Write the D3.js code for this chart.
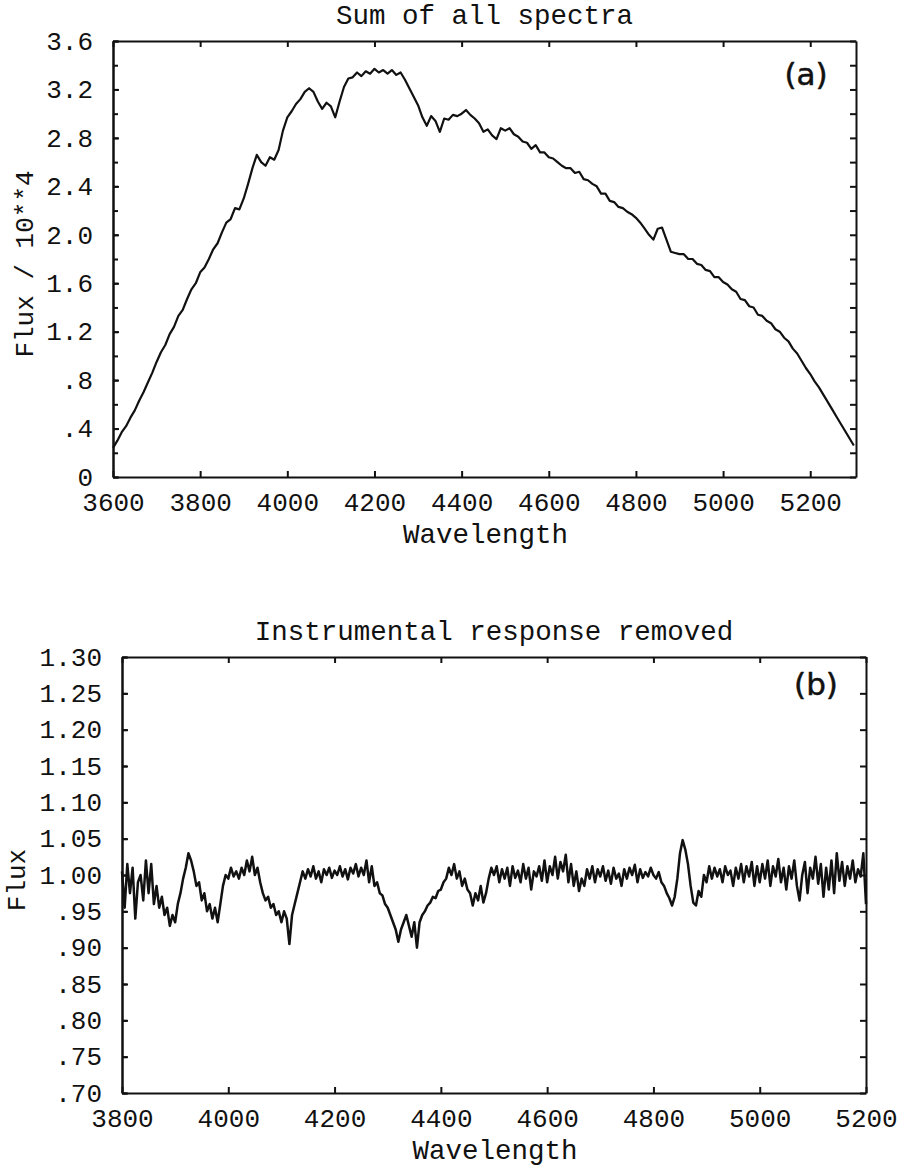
<!DOCTYPE html>
<html>
<head>
<meta charset="utf-8">
<title>Sum of all spectra / Instrumental response removed</title>
<script src="https://cdn.jsdelivr.net/npm/d3@7"></script>
<style>
  body { margin: 0; background: #fff; }
  text { font-family: "Liberation Mono", "Courier New", monospace; fill: #111; }
  .axis path, .axis line { stroke: #111; stroke-width: 2; }
  .axis text { font-size: 26px; }
  .tag { font-family: "DejaVu Sans", sans-serif; font-size: 31px; stroke: #111; stroke-width: 0.5; }
</style>
</head>
<body>
<div id="chart"></div>
<script>
// ---- panel (a): sum of all spectra, flux / 10**4, one value every 10 A from 3600
var waveStartA = 3600;
var waveStepA = 10;
var fluxA = [
  0.24, 0.30, 0.37, 0.42, 0.49, 0.55, 0.63, 0.70, 0.78, 0.86,   // 3600
  0.95, 1.03, 1.09, 1.18, 1.24, 1.33, 1.38, 1.47, 1.55, 1.60,   // 3700
  1.69, 1.73, 1.80, 1.88, 1.93, 2.02, 2.10, 2.13, 2.22, 2.21,   // 3800
  2.30, 2.42, 2.55, 2.66, 2.60, 2.57, 2.64, 2.62, 2.70, 2.86,   // 3900
  2.97, 3.02, 3.08, 3.12, 3.18, 3.21, 3.18, 3.10, 3.04, 3.09,   // 4000
  3.06, 2.97, 3.10, 3.22, 3.29, 3.30, 3.34, 3.31, 3.35, 3.33,   // 4100
  3.37, 3.34, 3.36, 3.33, 3.36, 3.32, 3.34, 3.28, 3.21, 3.14,   // 4200
  3.07, 2.97, 2.90, 2.98, 2.94, 2.85, 2.96, 2.95, 2.99, 2.98,   // 4300
  3.00, 3.03, 2.99, 2.96, 2.92, 2.85, 2.87, 2.82, 2.79, 2.88,   // 4400
  2.86, 2.88, 2.83, 2.81, 2.77, 2.76, 2.71, 2.74, 2.68, 2.68,   // 4500
  2.64, 2.63, 2.60, 2.57, 2.55, 2.55, 2.51, 2.52, 2.46, 2.45,   // 4600
  2.42, 2.40, 2.34, 2.34, 2.28, 2.27, 2.23, 2.22, 2.19, 2.17,   // 4700
  2.14, 2.10, 2.05, 2.00, 1.96, 2.05, 2.06, 1.96, 1.86, 1.85,   // 4800
  1.84, 1.84, 1.80, 1.80, 1.76, 1.75, 1.71, 1.70, 1.65, 1.65,   // 4900
  1.61, 1.59, 1.55, 1.53, 1.47, 1.46, 1.41, 1.40, 1.34, 1.33,   // 5000
  1.29, 1.27, 1.22, 1.20, 1.15, 1.12, 1.06, 1.02, 0.96, 0.90,   // 5100
  0.85, 0.79, 0.74, 0.68, 0.62, 0.56, 0.50, 0.44, 0.38, 0.32,   // 5200
  0.26                                                          // 5300
];
var xTicksA = [3600, 3800, 4000, 4200, 4400, 4600, 4800, 5000, 5200];
var yTicksA = [0, 0.4, 0.8, 1.2, 1.6, 2.0, 2.4, 2.8, 3.2, 3.6];
var yLabelsA = ["0", ".4", ".8", "1.2", "1.6", "2.0", "2.4", "2.8", "3.2", "3.6"];
var yMinorA = [0, 0.2, 0.4, 0.6, 0.8, 1.0, 1.2, 1.4, 1.6, 1.8, 2.0, 2.2, 2.4, 2.6, 2.8, 3.0, 3.2, 3.4, 3.6];

// ---- panel (b): instrumental response removed, one value every 5 A from 3800
var waveStartB = 3800;
var waveStepB = 5;
var fluxB = [
  1.005, 0.955, 1.015, 0.975, 1.010, 0.940, 0.990, 1.000, 0.965, 1.020, 0.975, 1.015, 0.960, 0.985, 0.955, 0.970, 0.945, 0.955, 0.930, 0.945, // 3800
  0.935, 0.960, 0.975, 0.995, 1.010, 1.030, 1.020, 1.005, 0.985, 0.990, 0.965, 0.975, 0.950, 0.960, 0.940, 0.955, 0.935, 0.960, 0.985, 1.000, // 3900
  0.995, 1.010, 0.998, 1.005, 0.995, 1.010, 1.000, 1.020, 1.005, 1.025, 1.000, 1.010, 0.990, 0.975, 0.965, 0.970, 0.955, 0.960, 0.945, 0.950, // 4000
  0.935, 0.950, 0.940, 0.905, 0.945, 0.960, 0.975, 0.990, 1.005, 0.995, 1.008, 0.998, 1.012, 0.995, 1.005, 0.990, 1.008, 1.000, 1.010, 0.996, // 4100
  1.006, 1.000, 1.012, 0.998, 1.008, 0.994, 1.010, 1.002, 1.015, 0.998, 1.010, 1.000, 1.020, 0.990, 1.012, 0.985, 0.990, 0.975, 0.972, 0.960, // 4200
  0.955, 0.945, 0.935, 0.925, 0.908, 0.925, 0.935, 0.945, 0.930, 0.915, 0.935, 0.900, 0.935, 0.945, 0.950, 0.958, 0.962, 0.970, 0.968, 0.978, // 4300
  0.980, 0.990, 0.995, 1.010, 1.000, 1.015, 0.995, 1.005, 0.985, 0.995, 0.980, 0.975, 0.958, 0.975, 0.965, 0.985, 0.962, 0.975, 0.995, 1.010, // 4400
  1.000, 1.012, 0.990, 1.008, 0.995, 1.010, 0.985, 1.012, 0.996, 1.006, 0.990, 1.015, 0.995, 1.010, 0.980, 1.005, 0.998, 1.012, 0.992, 1.020, // 4500
  0.990, 1.012, 1.000, 1.025, 0.995, 1.018, 1.005, 1.028, 0.990, 1.015, 0.985, 1.005, 0.978, 0.995, 0.985, 1.008, 0.995, 1.012, 0.990, 1.008, // 4600
  0.998, 1.012, 0.992, 1.006, 0.988, 1.010, 0.995, 1.002, 0.985, 1.008, 0.995, 1.010, 1.000, 1.014, 0.990, 1.008, 0.996, 1.004, 0.998, 1.010, // 4700
  1.000, 0.995, 1.004, 0.990, 0.985, 0.975, 0.968, 0.958, 0.970, 0.995, 1.030, 1.048, 1.035, 1.015, 0.985, 0.962, 0.958, 0.978, 0.970, 1.000, // 4800
  0.990, 1.012, 0.995, 1.010, 0.998, 1.008, 0.990, 1.012, 1.000, 1.006, 0.985, 1.010, 0.995, 1.015, 0.990, 1.012, 0.998, 1.018, 0.985, 1.012, // 4900
  0.990, 1.015, 0.995, 1.020, 0.985, 1.012, 0.998, 1.022, 0.990, 1.010, 0.980, 1.012, 0.995, 1.020, 0.985, 0.965, 1.000, 1.018, 0.975, 1.010, // 5000
  0.995, 1.025, 0.988, 1.015, 0.970, 1.010, 0.980, 1.020, 0.975, 1.030, 0.992, 1.018, 0.985, 1.012, 0.995, 1.020, 0.990, 1.008, 0.998, 1.030, // 5100
  0.960                                                                                                                                             // 5200
];
var xTicksB = [3800, 4000, 4200, 4400, 4600, 4800, 5000, 5200];
var yTicksB = [0.70, 0.75, 0.80, 0.85, 0.90, 0.95, 1.00, 1.05, 1.10, 1.15, 1.20, 1.25, 1.30];
var yLabelsB = [".70", ".75", ".80", ".85", ".90", ".95", "1.00", "1.05", "1.10", "1.15", "1.20", "1.25", "1.30"];

function drawPanel(svg, p) {
    // scales for this panel
    var x = d3.scaleLinear().domain(p.xDomain).range([p.left, p.right]);
    var y = d3.scaleLinear().domain(p.yDomain).range([p.bottom, p.top]);

    var g = svg.append("g");

    // bottom axis with labels, ticks pointing inward
    g.append("g")
        .attr("class", "axis")
        .attr("transform", "translate(0," + p.bottom + ")")
        .call(d3.axisBottom(x).tickValues(p.xTicks).tickSize(-6).tickSizeOuter(0)
            .tickPadding(16).tickFormat(d3.format("d")));

    // top axis, ticks only
    g.append("g")
        .attr("class", "axis")
        .attr("transform", "translate(0," + p.top + ")")
        .call(d3.axisTop(x).tickValues(p.xTicks).tickSize(-6).tickSizeOuter(0).tickFormat(""));

    // left axis with labels
    g.append("g")
        .attr("class", "axis")
        .attr("transform", "translate(" + p.left + ",0)")
        .call(d3.axisLeft(y).tickValues(p.yTicks).tickSize(-6).tickSizeOuter(0)
            .tickPadding(20).tickFormat(function(d, i) { return p.yLabels[i]; }));

    // left minor ticks
    g.append("g")
        .attr("class", "axis")
        .attr("transform", "translate(" + p.left + ",0)")
        .call(d3.axisLeft(y).tickValues(p.yMinor).tickSize(-5).tickSizeOuter(0).tickFormat(""));

    // right axis, ticks only
    g.append("g")
        .attr("class", "axis")
        .attr("transform", "translate(" + p.right + ",0)")
        .call(d3.axisRight(y).tickValues(p.yMinor).tickSize(-6).tickSizeOuter(0).tickFormat(""));

    // the spectrum
    var line = d3.line()
        .x(function(d, i) { return x(p.waveStart + p.waveStep * i); })
        .y(function(d) { return y(d); });

    g.append("path")
        .datum(p.flux)
        .attr("fill", "none")
        .attr("stroke", "#111")
        .attr("stroke-width", p.lineWidth)
        .attr("stroke-linejoin", "round")
        .attr("d", line);

    // title above the frame
    g.append("text")
        .attr("x", (p.left + p.right) / 2)
        .attr("y", p.titleY)
        .attr("text-anchor", "middle")
        .style("font-size", "27.5px")
        .text(p.title);

    // x axis title
    g.append("text")
        .attr("x", (p.left + p.right) / 2 + 1)
        .attr("y", p.xTitleY)
        .attr("text-anchor", "middle")
        .style("font-size", "27.5px")
        .text("Wavelength");

    // y axis title
    g.append("text")
        .attr("transform", "translate(" + p.yTitleX + "," + ((p.top + p.bottom) / 2 + 5) + ") rotate(-90)")
        .attr("text-anchor", "middle")
        .style("font-size", "26px")
        .text(p.yTitle);

    // panel tag (a) / (b)
    g.append("text")
        .attr("class", "tag")
        .attr("x", p.right - 50)
        .attr("y", p.top + p.tagDy)
        .attr("text-anchor", "middle")
        .text(p.tag);
}

function init() {
    var w = 905;
    var h = 1169;

    var svg = d3.select("#chart")
        .append("svg")
        .attr("width", w)
        .attr("height", h);

    drawPanel(svg, {
        left: 113, right: 856, top: 41, bottom: 477,
        xDomain: [3600, 5305], yDomain: [0, 3.6],
        xTicks: xTicksA, yTicks: yTicksA, yLabels: yLabelsA, yMinor: yMinorA,
        waveStart: waveStartA, waveStep: waveStepA, flux: fluxA, lineWidth: 2.2,
        title: "Sum of all spectra", titleY: 24, xTitleY: 543,
        yTitle: "Flux / 10**4", yTitleX: 33, tag: "(a)", tagDy: 44
    });

    drawPanel(svg, {
        left: 122, right: 866, top: 657, bottom: 1093,
        xDomain: [3800, 5200], yDomain: [0.70, 1.30],
        xTicks: xTicksB, yTicks: yTicksB, yLabels: yLabelsB, yMinor: yTicksB,
        waveStart: waveStartB, waveStep: waveStepB, flux: fluxB, lineWidth: 2.5,
        title: "Instrumental response removed", titleY: 640, xTitleY: 1159,
        yTitle: "Flux", yTitleX: 25, tag: "(b)", tagDy: 38
    });
}

window.onload = init;
</script>
</body>
</html>
